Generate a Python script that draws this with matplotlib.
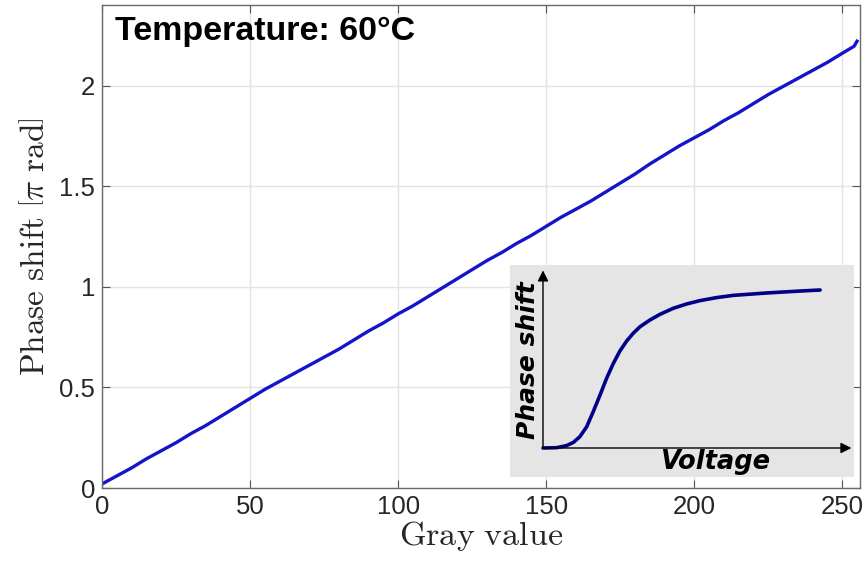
import matplotlib
matplotlib.use("Agg")
import matplotlib.pyplot as plt

plt.rcParams['mathtext.fontset'] = 'cm'
plt.rcParams['font.family'] = ['Liberation Sans', 'DejaVu Sans']

gray = [0, 5, 10, 15, 20, 25, 30, 35, 40, 45, 50, 55, 60, 65, 70, 75, 80, 85,
        90, 95, 100, 105, 110, 115, 120, 125, 130, 135, 140, 145, 150, 155,
        160, 165, 170, 175, 180, 185, 190, 195, 200, 205, 210, 215, 220, 225,
        230, 235, 240, 245, 250, 254, 255]
phase = [0.02, 0.06, 0.10, 0.145, 0.185, 0.225, 0.27, 0.31, 0.355, 0.40,
         0.445, 0.49, 0.53, 0.57, 0.61, 0.65, 0.69, 0.735, 0.78, 0.82, 0.865,
         0.905, 0.95, 0.995, 1.04, 1.085, 1.13, 1.17, 1.215, 1.255, 1.30,
         1.345, 1.385, 1.425, 1.47, 1.515, 1.56, 1.61, 1.655, 1.70, 1.74,
         1.78, 1.825, 1.865, 1.91, 1.955, 1.995, 2.035, 2.075, 2.115, 2.16,
         2.195, 2.22]

# schematic sigmoid in the inset
volt = [0, 0.44, 0.76, 0.98, 1.19, 1.41, 1.62, 1.84, 2.05, 2.27, 2.48, 2.70,
        2.91, 3.13, 3.45, 3.77, 4.20, 4.63, 5.06, 5.60, 6.14, 7.22, 8.29, 8.94]
shift = [0, 0.002, 0.015, 0.035, 0.071, 0.133, 0.227, 0.331, 0.435, 0.529,
         0.606, 0.669, 0.717, 0.758, 0.80, 0.835, 0.873, 0.90, 0.921, 0.94,
         0.954, 0.969, 0.981, 0.9875]

W, H = 863, 569
fig = plt.figure(figsize=(W / 100, H / 100), dpi=100)
ax = fig.add_axes([102 / W, (H - 488) / H, (860 - 102) / W, (488 - 5) / H])

ax.plot(gray, phase, color='#1414c8', lw=2.4)
ax.set_xlim(0, 256)
ax.set_ylim(0, 2.4)
ax.set_xticks([0, 50, 100, 150, 200, 250])
ax.set_yticks([0, 0.5, 1, 1.5, 2])
ax.set_yticklabels(['0', '0.5', '1', '1.5', '2'])
ax.grid(True, color='#e3e3e3', lw=1)
ax.set_axisbelow(True)
ax.tick_params(direction='in', length=6, width=0.8, labelsize=18.5,
               colors='#555555', labelcolor='#262626', top=True, right=True,
               pad=5)
for s in ax.spines.values():
    s.set_color('#6a6a6a')
    s.set_linewidth(1)

ax.set_xlabel(r'$\mathrm{Gray\ value}$', fontsize=24.5, color='#262626', labelpad=0)
ax.set_ylabel(r'$\mathrm{Phase\ shift}\ \left[\pi\ \mathrm{rad}\right]$', fontsize=24,
              color='#262626', labelpad=6)

ax.text(115 / W, 1 - 16 / H, 'Temperature: 60°C', transform=fig.transFigure,
        fontsize=24.5, fontweight='bold', va='top', ha='left')

# inset schematic
x0, x1, y0, y1 = 510, 854, 265, 477
ins = fig.add_axes([x0 / W, (H - y1) / H, (x1 - x0) / W, (y1 - y0) / H])
ins.set_facecolor('#e5e5e5')
for s in ins.spines.values():
    s.set_visible(False)
ins.set_xticks([])
ins.set_yticks([])
ins.set_xlim((x0 - 543) / 31, (x1 - 543) / 31)
ins.set_ylim((448 - y1) / 160, (448 - y0) / 160)
ins.annotate('', xy=(9.95, 0), xytext=(0, 0),
             arrowprops=dict(arrowstyle='-|>', color='black', lw=1,
                             mutation_scale=16, shrinkA=0, shrinkB=0))
ins.annotate('', xy=(0, 1.11), xytext=(0, 0),
             arrowprops=dict(arrowstyle='-|>', color='black', lw=1,
                             mutation_scale=16, shrinkA=0, shrinkB=0))
ins.plot(volt, shift, color='#000088', lw=2.6, solid_capstyle='round',
         solid_joinstyle='round')
ins.text(5.55, -0.09, 'Voltage', fontsize=18.5, fontweight='bold',
         fontstyle='italic', ha='center', va='center', family=['DejaVu Sans'])
ins.text(-0.5, 0.55, 'Phase shift', fontsize=18, fontweight='bold',
         fontstyle='italic', ha='center', va='center', rotation=90,
         family=['DejaVu Sans'])

fig.savefig('out.png', dpi=100)
